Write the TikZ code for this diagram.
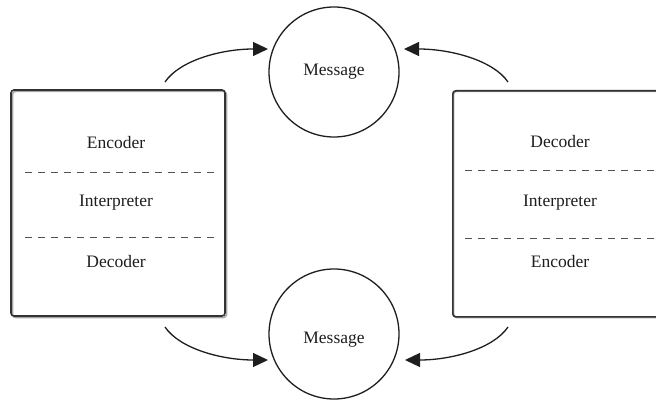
\documentclass[tikz,border=0pt]{standalone}
\usepackage{fontspec}
\setmainfont{Liberation Serif}
\usetikzlibrary{arrows.meta,calc}
\definecolor{ink}{HTML}{1E1E1E}
\definecolor{boxink}{HTML}{333333}
\definecolor{shade}{HTML}{A8A8A8}
\begin{document}
\begin{tikzpicture}[x=1pt,y=-1pt,
  lbl/.style={font=\fontsize{17.5}{20}\selectfont, text=ink, inner sep=0pt},
  msg/.style={circle, draw=ink, line width=1.3pt, minimum size=130pt, inner sep=0pt, font=\fontsize{17.5}{20}\selectfont, text=ink},
  sep/.style={draw=boxink!85, line width=0.8pt, dash pattern=on 7pt off 6pt},
  frame/.style={draw=boxink, line width=1.6pt, rounded corners=3pt},
  frameshade/.style={draw=shade, line width=1.5pt, rounded corners=3pt},
  flow/.style={draw=ink, line width=1.3pt, -{Triangle[length=15pt,width=14pt]}}]
\useasboundingbox (0,0) rectangle (656,401);
\clip (0,0) rectangle (656,401);
% boxes
\draw[frameshade] (12.5,91.5) rectangle (226.5,317.5);
\node[frame, minimum width=214pt, minimum height=226pt, inner sep=0pt] (boxL) at (118,203) {};
\draw[frameshade] (453.5,91.5) rectangle (680,317.5);
\node[frame, minimum width=226pt, minimum height=226pt, inner sep=0pt, anchor=north west] (boxR) at (452,90) {};
% left box contents
\node[lbl] (lenc) at (116,143) {Encoder};
\node[lbl] (lint) at (116,203) {Interpreter};
\node[lbl] (ldec) at (116,262) {Decoder};
\draw[sep] (25,172) -- (214,172);
\draw[sep] (25,237) -- (214,237);
% right box contents
\node[lbl] (rdec) at (560,142) {Decoder};
\node[lbl] (rint) at (560,203) {Interpreter};
\node[lbl] (renc) at (560,262) {Encoder};
\draw[sep] (465,170) -- (656,170);
\draw[sep] (465,238) -- (656,238);
% messages
\node[msg] (msgTop) at (334,72) {Message};
\node[msg] (msgBot) at (334,334) {};
\node[font=\fontsize{17.5}{20}\selectfont, text=ink, inner sep=0pt] (msgBotTxt) at (334,340) {Message};
% connector ends
\coordinate (sTL) at (165,82);
\coordinate (sTR) at (508,82);
\coordinate (sBL) at (165,327);
\coordinate (sBR) at (508,327);
\coordinate (eTL) at (268,49);
\coordinate (eTR) at (404,49);
\coordinate (eBL) at (268,360);
\coordinate (eBR) at (405,360);
\draw[flow] (sTL) .. controls (180,60) and (222,49) .. (eTL);
\draw[flow] (sTR) .. controls (493,60) and (450,49) .. (eTR);
\draw[flow] (sBL) .. controls (180,349) and (222,360) .. (eBL);
\draw[flow] (sBR) .. controls (493,349) and (451,360) .. (eBR);
\end{tikzpicture}
\end{document}
